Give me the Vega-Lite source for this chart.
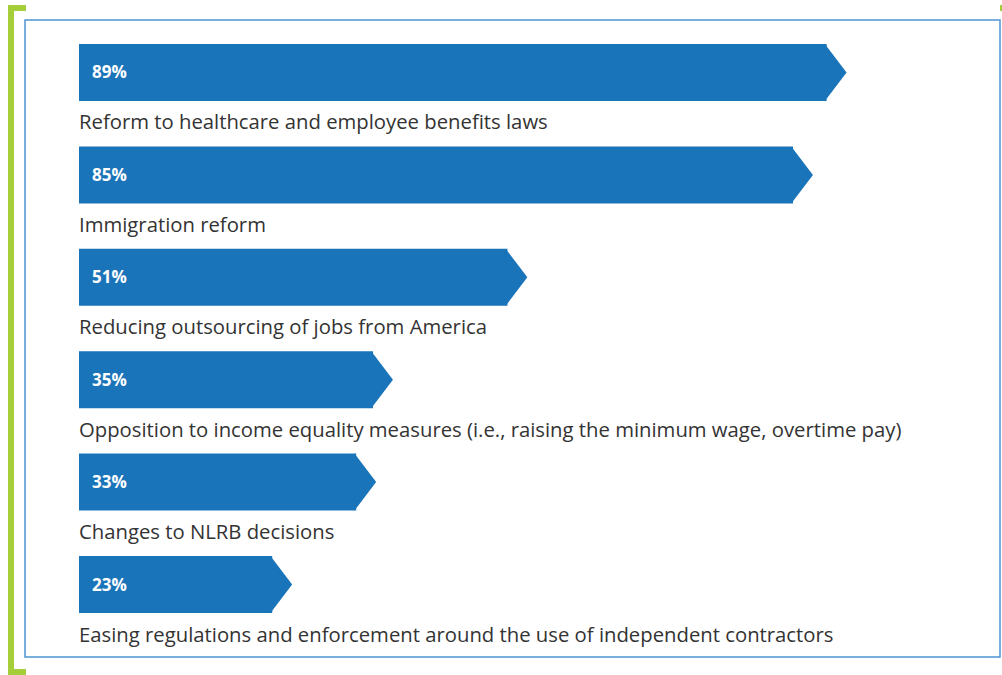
{
  "$schema": "https://vega.github.io/schema/vega-lite/v6.json",
  "width": 975,
  "height": 637,
  "autosize": {"type": "none"},
  "padding": {"left": 25, "top": 20, "right": 2, "bottom": 18},
  "background": "white",
  "config": {"view": {"stroke": "#4f94d4", "strokeWidth": 1.5}},
  "data": {
    "values": [
      {"label": "Reform to healthcare and employee benefits laws", "value": 89, "pct": "89%"},
      {"label": "Immigration reform", "value": 85, "pct": "85%"},
      {"label": "Reducing outsourcing of jobs from America", "value": 51, "pct": "51%"},
      {"label": "Opposition to income equality measures (i.e., raising the minimum wage, overtime pay)", "value": 35, "pct": "35%"},
      {"label": "Changes to NLRB decisions", "value": 33, "pct": "33%"},
      {"label": "Easing regulations and enforcement around the use of independent contractors", "value": 23, "pct": "23%"}
    ]
  },
  "encoding": {
    "y": {
      "field": "label",
      "type": "nominal",
      "sort": null,
      "axis": null,
      "scale": {"range": [24, 593], "paddingInner": 0.4434, "paddingOuter": 0}
    }
  },
  "layer": [
    {
      "mark": {"type": "bar", "color": "#1a74b9", "cornerRadius": 0},
      "encoding": {
        "x": {"field": "value", "type": "quantitative", "axis": null, "scale": {"domain": [0, 100], "range": [54, 894]}}
      }
    },
    {
      "mark": {"type": "point", "shape": "M-0.06,-1L0.7,0L-0.06,1Z", "filled": true, "opacity": 1, "color": "#1a74b9", "strokeWidth": 0, "size": 3249},
      "encoding": {
        "x": {"field": "value", "type": "quantitative"}
      }
    },
    {
      "mark": {"type": "text", "align": "left", "baseline": "alphabetic", "dx": 13, "dy": 6, "font": "Open Sans", "fontWeight": "bold", "fontSize": 17, "color": "white"},
      "encoding": {
        "x": {"datum": 0},
        "text": {"field": "pct"}
      }
    },
    {
      "mark": {"type": "text", "align": "left", "baseline": "alphabetic", "dx": 0, "dy": 57, "font": "Open Sans", "fontSize": 20.3, "color": "#333333"},
      "encoding": {
        "x": {"datum": 0},
        "text": {"field": "label"}
      }
    },
    {
      "data": {"values": [{"k": 1}]},
      "mark": {"type": "rule", "color": "#a6ce39", "strokeWidth": 6},
      "encoding": {
        "x": {"value": -14},
        "y": {"value": -15},
        "y2": {"value": 655}
      }
    },
    {
      "data": {"values": [{"k": 1}]},
      "mark": {"type": "rule", "color": "#a6ce39", "strokeWidth": 6},
      "encoding": {
        "x": {"value": -17},
        "x2": {"value": 1},
        "y": {"value": -12}
      }
    },
    {
      "data": {"values": [{"k": 1}]},
      "mark": {"type": "rule", "color": "#a6ce39", "strokeWidth": 6},
      "encoding": {
        "x": {"value": -17},
        "x2": {"value": 1},
        "y": {"value": 652}
      }
    },
    {
      "data": {"values": [{"k": 1}]},
      "mark": {"type": "rule", "color": "#a6ce39", "strokeWidth": 6},
      "encoding": {
        "x": {"value": 975},
        "x2": {"value": 985},
        "y": {"value": -12}
      }
    }
  ]
}
